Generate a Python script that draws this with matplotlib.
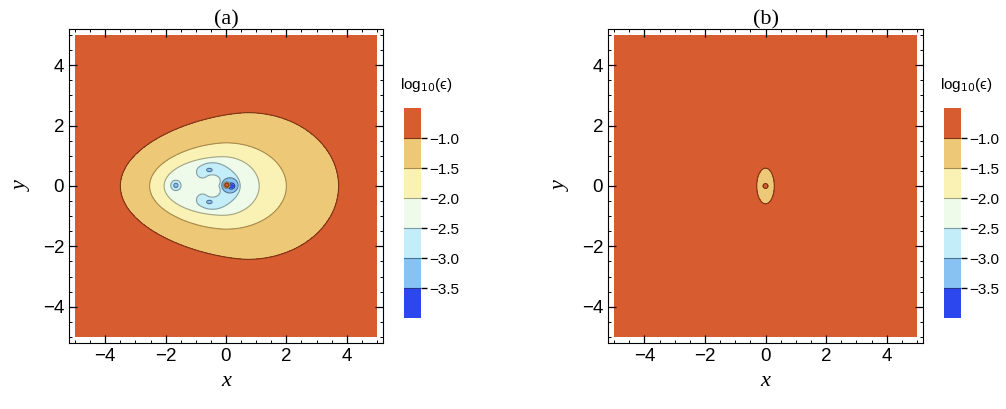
import numpy as np
import matplotlib.pyplot as plt
from matplotlib.colors import ListedColormap, BoundaryNorm
from matplotlib.ticker import MultipleLocator
import matplotlib.cm as cm

# colour bands of log10(eps), from low to high
levels = [-4.0, -3.5, -3.0, -2.5, -2.0, -1.5, -1.0, -0.5]
band_colors = ['#2c47ee', '#87c2f2', '#c3edf9', '#effbea', '#faf1b5', '#edc977', '#d75d31']
line_levels = [-3.5, -3.0, -2.5, -2.0, -1.5, -1.0]
line_colors = ['#26358f', '#4d6f92', '#7d9ca4', '#a0a585', '#a78c4f', '#7c3515']
cbar_ticks = [-1.0, -1.5, -2.0, -2.5, -3.0, -3.5]

# panel (a): egg shaped outer rings
ring_cx_a = [0.72, 0.0, -0.1]
ring_wl_a = [4.22, 2.53, 1.95]
ring_wr_a = [3.01, 2.0, 1.2]
ring_h_a = [2.43, 1.43, 0.97]
ring_pl_a = [1.6, 1.7, 1.9]
ring_pr_a = [2.0, 2.0, 2.0]

# panel (a): horseshoe (below -2.5) around the centre, opening to the left
shoe_center = (-0.45, 0.0)
shoe_radius = 0.57
shoe_half_angle = np.deg2rad(125)
shoe_widths = (0.2, 0.15)   # arm half width, extra at the middle
left_blob = (-1.66, 0.02, 0.17)

# panel (a): blue spots (below -3.0): x, y, a, b
blue_x = [0.13, -0.55, -0.55, -1.66]
blue_y = [0.02, 0.53, -0.53, 0.02]
blue_a = [0.27, 0.09, 0.09, 0.07]
blue_b = [0.25, 0.055, 0.055, 0.07]
dark_spot = (0.17, 0.0, 0.12, 0.1)
red_spot_a = (0.03, 0.03, 0.09)

# panel (b)
ring_b = (0.0, 0.0, 0.29, 0.59)
red_spot_b = (0.0, 0.0, 0.08)

x = np.linspace(-5, 5, 1001)
X, Y = np.meshgrid(x, x)


def inside(dist, width=0.02):
    return 0.5 * (1 - np.tanh(dist / width))


def ellipse_in(cx, cy, a, b):
    rho = np.sqrt(((X - cx) / a) ** 2 + ((Y - cy) / b) ** 2)
    return inside((rho - 1) * min(a, b))


def egg_in(cx, wl, wr, h, pl, pr):
    dx = X - cx
    w = np.where(dx < 0, wl, wr)
    p = np.where(dx < 0, pl, pr)
    rho = (np.abs(dx) / w) ** p + (Y / h) ** 2
    return inside((rho - 1) * h * 0.5, 0.03)


def shoe_in():
    dx, dy = X - shoe_center[0], Y - shoe_center[1]
    th = np.arctan2(dy, dx)
    thc = np.clip(th, -shoe_half_angle, shoe_half_angle)
    px = shoe_radius * np.cos(thc)
    py = shoe_radius * np.sin(thc)
    d = np.hypot(dx - px, dy - py)
    w = shoe_widths[0] + shoe_widths[1] * np.exp(-(thc / 0.6) ** 2)
    return inside(d - w)


# field (a)
Fa = -0.75 * np.ones_like(X)
for i in range(3):
    Fa -= 0.5 * egg_in(ring_cx_a[i], ring_wl_a[i], ring_wr_a[i], ring_h_a[i],
                       ring_pl_a[i], ring_pr_a[i])
cyan = np.maximum(shoe_in(), ellipse_in(left_blob[0], left_blob[1], left_blob[2], left_blob[2]))
Fa -= 0.5 * cyan
blue = np.zeros_like(X)
for i in range(len(blue_x)):
    blue = np.maximum(blue, ellipse_in(blue_x[i], blue_y[i], blue_a[i], blue_b[i]))
Fa -= 0.5 * blue
Fa -= 0.5 * ellipse_in(*dark_spot)
red = ellipse_in(red_spot_a[0], red_spot_a[1], red_spot_a[2], red_spot_a[2])
Fa = Fa * (1 - red) + (-0.75) * red

# field (b)
Fb = -0.75 - 0.5 * ellipse_in(*ring_b)
red = ellipse_in(red_spot_b[0], red_spot_b[1], red_spot_b[2], red_spot_b[2])
Fb = Fb * (1 - red) + (-0.75) * red

cmap = ListedColormap(band_colors)
norm = BoundaryNorm(levels, cmap.N)

plt.rcParams['font.family'] = ['Liberation Sans', 'DejaVu Sans']
serif = 'Liberation Serif'

fig = plt.figure(figsize=(10.06, 4.09), dpi=100)
ax_pos = [(0.0686, 0.1614, 0.3121, 0.7677), (0.6044, 0.1614, 0.3131, 0.7677)]
cb_pos = [(0.4016, 0.2225, 0.0169, 0.5134), (0.9384, 0.2225, 0.0169, 0.5134)]
titles = ['(a)', '(b)']

for k, F in enumerate([Fa, Fb]):
    ax = fig.add_axes(ax_pos[k])
    ax.contourf(X, Y, F, levels=levels, cmap=cmap, norm=norm)
    ax.contour(X, Y, F, levels=line_levels, colors=line_colors, linewidths=0.8)
    ax.set_xlim(-5.2, 5.2)
    ax.set_ylim(-5.2, 5.2)
    ax.xaxis.set_major_locator(MultipleLocator(2))
    ax.yaxis.set_major_locator(MultipleLocator(2))
    ax.xaxis.set_minor_locator(MultipleLocator(0.5))
    ax.yaxis.set_minor_locator(MultipleLocator(0.5))
    ax.tick_params(which='both', direction='in', top=True, right=True, labelsize=13.5)
    ax.tick_params(which='major', length=6, width=0.9)
    ax.tick_params(which='minor', length=2.5, width=0.7)
    ax.set_xlabel('x', family=serif, style='italic', fontsize=16, labelpad=5)
    ax.set_ylabel('y', family=serif, style='italic', fontsize=16, labelpad=8)
    ax.set_title(titles[k], family=serif, fontsize=16, pad=3)

    cax = fig.add_axes(cb_pos[k])
    sm = cm.ScalarMappable(norm=norm, cmap=cmap)
    cb = fig.colorbar(sm, cax=cax, ticks=cbar_ticks)
    cb.minorticks_off()
    cb.outline.set_visible(False)
    for v, c in zip(line_levels, line_colors):
        cax.axhline(v, color=c, lw=0.8)
    cax.tick_params(length=4, width=1.0, labelsize=11, pad=2)
    fig.text(cb_pos[k][0] - 0.004, 0.792, 'log$_{10}$(\u03f5)',
             fontsize=11, ha='left', va='center')

fig.savefig('out.png', dpi=100)
